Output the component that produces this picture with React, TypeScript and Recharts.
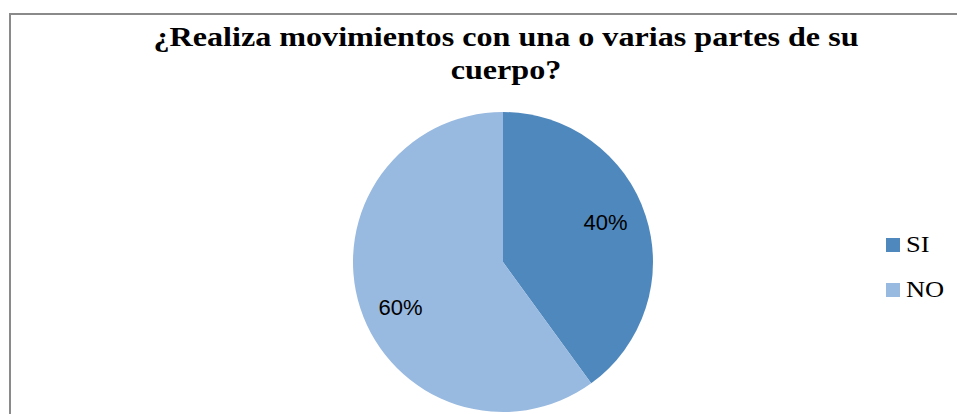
import { PieChart, Pie, Cell } from "recharts"

const categories = ["SI", "NO"]
const values = [40, 60]
const colors = ["#4f88bd", "#98b9e0"]
const title = ["¿Realiza movimientos con una o varias partes de su", "cuerpo?"]

const data = categories.map((name, i) => ({ name, value: values[i] }))

const RAD = Math.PI / 180
const serif = "'Liberation Serif', 'Times New Roman', serif"
// Excel coloca las etiquetas un poco giradas respecto al ángulo medio
const LABEL_TURN = 4.5

function renderLabel(p: any) {
  const r = p.outerRadius * 0.74
  const a = (p.midAngle + LABEL_TURN) * RAD
  const x = p.cx + r * Math.cos(-a)
  const y = p.cy + r * Math.sin(-a)
  return (
    <text x={x} y={y} dy={3} textAnchor="middle" dominantBaseline="central"
      fontFamily="'Liberation Sans', Arial, sans-serif" fontSize={22} fill="#000">
      {`${p.value}%`}
    </text>
  )
}

export default function App() {
  return (
    <div style={{ position: "absolute", left: 0, top: 0, width: 957, height: 414, overflow: "hidden", background: "#fff" }}>
      <div style={{ position: "absolute", left: 9, top: 13, width: 1000, height: 500, border: "2px solid #8a8a8a", boxSizing: "border-box" }} />
      <div style={{ position: "absolute", left: 0, top: 0 }}>
        <PieChart width={957} height={414} margin={{ top: 0, right: 0, bottom: 0, left: 0 }}>
          <Pie data={data} dataKey="value" nameKey="name" cx={503} cy={262} outerRadius={150}
            startAngle={90} endAngle={-270} stroke="none" label={renderLabel} labelLine={false}
            isAnimationActive={false}>
            {data.map((d, i) => <Cell key={d.name} fill={colors[i]} />)}
          </Pie>
        </PieChart>
      </div>
      {/* título */}
      <div style={{
        position: "absolute", left: 0, top: 21, width: 1012, textAlign: "center",
        fontFamily: serif, fontWeight: "bold", fontSize: 27, lineHeight: "33px",
        color: "#000", whiteSpace: "nowrap", transform: "scaleX(1.19)", transformOrigin: "506px 0",
      }}>
        {title[0]}<br />{title[1]}
      </div>
      {/* leyenda */}
      <div style={{ position: "absolute", left: 886, top: 222, fontFamily: serif, fontSize: 23, color: "#000" }}>
        {categories.map((c, i) => (
          <div key={c} style={{ display: "flex", alignItems: "center", height: 45 }}>
            <span style={{ width: 14, height: 14, background: colors[i], display: "inline-block", marginRight: 6 }} />
            <span style={{ display: "inline-block", transform: "scaleX(1.15)", transformOrigin: "0 0" }}>{c}</span>
          </div>
        ))}
      </div>
    </div>
  )
}
